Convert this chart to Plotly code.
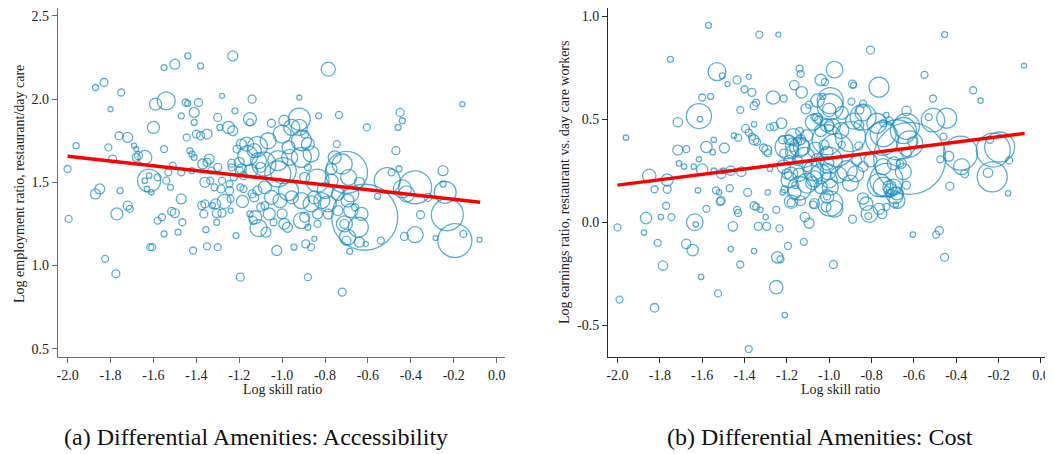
import plotly.graph_objects as go

# ---- data ----
# panel (a): log skill ratio vs log employment ratio, bubble radius ~ weight
skill_a = [
    -2.00, -1.96, -1.87, -1.83, -1.80, -1.75, -1.81, -1.76, -1.72, -1.69, -1.68, -1.79,
    -1.68, -1.64, -1.62, -1.60, -1.59, -1.54, -1.55, -1.50, -1.44, -1.38, -1.45, -1.44,
    -1.39, -1.41, -1.47, -1.41, -1.445, -1.40, -1.38, -1.35, -1.43, -1.42, -1.41, -1.55,
    -1.51, -1.53, -1.47, -1.42, -1.37, -1.34, -1.30, -1.28, -1.22, -1.23, -1.14, -1.30,
    -1.29, -1.25, -1.23, -1.15, -1.15, -0.92, -0.83, -0.735, -0.785, -0.92, -0.99, -0.605,
    -0.45, -0.44, -0.46, -0.16, -0.745, -0.47, -0.455, -0.49, -0.25, -0.25, -0.70, -0.72,
    -0.77, -0.51, -0.38, -0.44, -0.24,
    -1.995, -1.87, -1.85, -1.755, -1.825, -1.775, -1.77, -1.72, -1.71, -1.615, -1.605, -1.58,
    -1.56, -1.55, -1.515, -1.50, -1.47, -1.465, -1.485, -1.415, -1.375, -1.36, -1.365, -1.355,
    -1.35, -1.325, -1.305, -1.28, -1.305, -1.30, -1.27, -1.24, -1.215, -1.195, -1.185, -1.15,
    -1.135, -1.11, -1.075, -1.06, -1.04, -1.025, -0.99, -0.975, -0.945, -0.895, -0.89, -0.88,
    -0.865, -0.85, -0.72, -0.685, -0.70, -0.615, -0.64, -0.61, -0.54, -0.555, -0.71, -0.68,
    -0.43, -0.38, -0.355, -0.23, -0.285, -0.195, -0.155, -0.08, -0.42,
    -1.67, -1.54, -1.52, -1.64, -1.62, -1.58, -1.63, -1.61, -1.36, -1.315, -1.285, -1.245,
    -1.24, -1.195, -1.18, -1.235, -1.235, -1.14, -1.13, -1.10, -1.08, -1.115, -1.115, -1.13,
    -1.16, -1.085, -1.02, -1.10, -1.19, -1.20, -1.20, -1.18, -1.225,
    -1.05, -0.92, -1.00, -1.065, -1.165, -1.21, -0.895, -0.88, -0.865, -0.91, -0.965, -1.02,
    -0.995, -1.11, -1.145, -1.19, -0.755, -0.69, -1.35, -1.33, -1.28, -1.245, -1.335, -1.31,
    -1.08, -1.05, -1.01, -0.955, -0.91, -0.865, -0.815, -0.785, -0.74, -0.695, -1.125, -0.835,
    -0.785, -0.74, -0.71, -0.695,
    -0.64, -0.32, -0.645, -0.63, -0.955, -0.97, -0.91, -0.88, -0.895, -0.835, -0.77, -0.80,
    -0.85, -0.97, -0.91, -1.00, -0.835, -0.88, -0.66, -0.68,
]
emp_a = [
    1.58, 1.72, 2.07, 2.10, 1.94, 2.04, 1.71, 1.78, 1.77, 1.72, 1.70, 1.64,
    1.65, 1.65, 1.51, 1.83, 1.97, 1.99, 2.19, 2.21, 2.26, 2.20, 1.98, 1.975,
    1.98, 1.92, 1.90, 1.86, 1.77, 1.79, 1.78, 1.79, 1.69, 1.67, 1.65, 1.70,
    1.60, 1.56, 1.56, 1.57, 1.61, 1.64, 1.59, 2.02, 1.93, 2.26, 2.00, 1.89,
    1.83, 1.83, 1.81, 1.88, 1.86, 2.01, 1.90, 1.905, 2.18, 1.88, 1.87, 1.83,
    1.92, 1.87, 1.83, 1.97, 1.73, 1.69, 1.58, 1.56, 1.57, 1.49, 1.56, 1.61,
    1.58, 1.51, 1.47, 1.46, 1.44,
    1.28, 1.43, 1.46, 1.45, 1.04, 0.95, 1.31, 1.36, 1.34, 1.11, 1.11, 1.27,
    1.29, 1.19, 1.325, 1.315, 1.40, 1.26, 1.20, 1.09, 1.36, 1.37, 1.31, 1.215,
    1.115, 1.36, 1.315, 1.315, 1.26, 1.11, 1.385, 1.33, 1.18, 0.93, 1.385, 1.31,
    1.27, 1.225, 1.20, 1.31, 1.26, 1.09, 1.25, 1.23, 1.11, 1.29, 1.13, 0.93,
    1.11, 1.16, 0.84, 1.085, 1.15, 1.29, 1.14, 1.13, 1.15, 1.415, 1.25, 1.33,
    1.175, 1.185, 1.305, 1.305, 1.165, 1.15, 1.19, 1.155, 1.43,
    1.66, 1.51, 1.47, 1.51, 1.54, 1.53, 1.46, 1.44, 1.50, 1.47, 1.46, 1.45,
    1.40, 1.47, 1.46, 1.615, 1.59, 1.43, 1.41, 1.35, 1.36, 1.45, 1.715, 1.69,
    1.66, 1.61, 1.55, 1.59, 1.73, 1.62, 1.57, 1.54, 1.53,
    1.855, 1.83, 1.79, 1.75, 1.73, 1.70, 1.79, 1.73, 1.67, 1.65, 1.65, 1.63,
    1.57, 1.63, 1.57, 1.58, 1.65, 1.53, 1.62, 1.57, 1.51, 1.49, 1.51, 1.37,
    1.47, 1.41, 1.39, 1.41, 1.39, 1.37, 1.39, 1.37, 1.43, 1.39, 1.29, 1.31,
    1.31, 1.33, 1.25, 1.17,
    1.50, 1.41, 1.23, 1.31, 1.83, 1.71, 1.75, 1.59, 1.53, 1.51, 1.51, 1.45,
    1.41, 1.45, 1.27, 1.31, 1.25, 1.23, 1.35, 1.43,
]
weight_a = [
    3.5, 3, 3, 4, 2.5, 3.5, 3.5, 4, 5, 2.5, 2.5, 4,
    4, 7, 11.5, 6, 6, 9, 3, 5, 3, 3, 3.5, 3,
    4, 5, 3, 3, 3.5, 4, 4, 5, 3, 3, 3, 3.5,
    3.5, 3.5, 3.5, 3, 5, 5, 4, 2.5, 3, 5, 4, 4,
    3, 6, 5, 6.5, 3.5, 2.5, 3, 3.5, 7, 11, 5.5, 3.5,
    4, 3, 3, 2.5, 3.5, 4, 3, 3.5, 5, 3, 21, 10,
    5.5, 13, 16.5, 9, 11,
    3.5, 5, 5, 3, 3.5, 4, 6, 4.5, 3.5, 3.5, 3.5, 3.5,
    3.5, 3, 4, 4.5, 5, 3.5, 3, 3.5, 4, 4, 4, 3,
    3.5, 3, 4.5, 4, 3, 3.5, 7, 2.5, 3, 4, 6, 3,
    4, 8.5, 5, 6, 3.5, 5, 5.5, 5, 3, 5, 4, 3.5,
    3.5, 2.5, 4, 3, 4.5, 33, 5, 2.5, 3.5, 3, 4.5, 7,
    4, 8, 4, 16, 2.5, 17, 3.5, 2.5, 8,
    4, 3.5, 3, 2.7, 2.7, 3.5, 2.7, 2.7, 5, 3.5, 4, 4,
    3.5, 3.5, 3.5, 4, 3.5, 4, 4.5, 4, 4, 4.5, 10, 7,
    10, 12, 13, 5, 5, 5, 4, 4, 3.5,
    4, 8, 9, 8, 7, 4, 4, 6.5, 8, 10, 8, 10,
    13, 8, 6.5, 5, 6.5, 8, 4, 3.5, 3.5, 3.5, 3.5, 5,
    6.5, 7, 7, 6.5, 8, 8, 8, 8, 6.5, 6.5, 6.5, 5,
    5, 5, 8, 8,
    5, 4, 10, 6.5, 8, 6.5, 10, 3.5, 5, 11.5, 6.5, 8,
    6.5, 10, 8, 5, 3.5, 3, 3.5, 8,
]

# panel (b): log skill ratio vs log earnings ratio
skill_b = [
    -1.96, -1.75, -1.57, -1.33, -1.24, -0.805, -0.455, -0.08, -1.53, -1.505, -1.48, -1.435,
    -1.38, -1.40, -1.365, -1.60, -1.56, -1.615, -1.61, -1.715, -1.42, -1.355, -1.345, -1.355,
    -1.265, -1.215, -1.225, -1.26, -1.28, -1.165, -1.14, -1.135, -1.13, -1.04, -1.02, -0.975,
    -0.89, -0.885, -0.765, -0.55, -0.32, -0.285, -0.51, -0.995, -1.03, -0.895, -0.84, -0.885,
    -0.94, -0.855, -1.11, -1.095, -1.055, -1.07, -0.635, -0.53, -0.51, -0.445, -0.46,
    -0.68, -0.745, -0.65, -0.62,
    -0.38, -0.435, -0.475, -0.225, -0.195, -0.24, -0.23, -0.25, -0.15, -0.375, -0.36, -0.43,
    -0.155,
    -1.85, -1.765, -1.825, -1.765, -1.71, -1.685, -1.64, -1.715, -1.675, -1.62, -1.60, -1.545,
    -1.58, -1.55, -1.545, -1.495, -1.535, -1.52, -1.47, -1.465, -1.50, -1.45, -1.43, -1.415,
    -1.385, -1.395, -1.38, -1.365, -1.355, -1.34, -1.31, -1.295, -1.29, -1.28, -1.29, -1.22,
    -1.21, -1.16, -1.14, -1.20, -1.22, -1.215, -1.19, -1.15, -1.135, -1.115, -1.13, -1.175,
    -1.065, -1.025,
    -1.075, -1.04, -1.005, -0.955, -0.915, -0.875, -0.90, -0.995, -1.04, -1.08, -1.105,
    -0.94, -0.86, -0.87, -0.84, -0.805, -0.745, -0.695, -0.665, -0.635, -0.65, -0.695, -0.745,
    -0.68, -0.635,
    -2.00, -1.99, -1.865, -1.875, -1.81, -1.77, -1.795, -1.745, -1.785, -1.825, -1.675, -1.645,
    -1.63, -1.635, -1.605, -1.58, -1.515, -1.525, -1.455, -1.465, -1.42, -1.435, -1.43, -1.38,
    -1.355, -1.355, -1.345, -1.325, -1.30, -1.335, -1.295, -1.25, -1.245, -1.23, -1.235, -1.25,
    -1.21, -1.195, -1.18, -1.12, -1.115, -1.095, -1.075, -0.995, -0.975, -1.01, -0.98, -0.89,
    -0.84, -0.81, -0.815, -0.765, -0.75, -0.73, -0.69, -0.685, -0.605, -0.495, -0.48, -0.455,
    -1.615, -1.51, -1.51,
    -1.055, -1.00, -1.05, -1.00, -1.04, -1.105, -1.14, -1.175, -1.14, -1.01, -1.19, -1.215,
    -1.18, -1.19, -1.14, -1.07, -1.01, -1.055, -1.105, -1.15, -1.165, -1.135, -1.18, -1.07,
    -1.01, -1.015,
    -0.995, -1.075, -1.01, -0.84, -0.84, -0.775, -0.73, -0.745, -1.17, -1.20, -1.01, -0.90,
    -0.965, -0.73, -0.71, -0.68, -0.635, -0.62, -0.715, -0.86, -0.945, -0.985, -0.75, -0.605,
    -0.66, -0.715, -0.765, -0.715, -1.00, -1.00, -0.825,
]
earn_b = [
    0.41, 0.79, 0.955, 0.91, 0.91, 0.835, 0.91, 0.76, 0.73, 0.71, 0.67, 0.69,
    0.705, 0.645, 0.63, 0.605, 0.61, 0.515, 0.50, 0.485, 0.545, 0.565, 0.58, 0.475,
    0.605, 0.60, 0.48, 0.465, 0.46, 0.665, 0.745, 0.72, 0.63, 0.69, 0.68, 0.74,
    0.67, 0.665, 0.655, 0.715, 0.64, 0.59, 0.60, 0.59, 0.61, 0.585, 0.51, 0.49,
    0.53, 0.545, 0.55, 0.57, 0.505, 0.51, 0.54, 0.51, 0.495, 0.505, 0.415,
    0.40, 0.43, 0.445, 0.31,
    0.335, 0.32, 0.305, 0.35, 0.365, 0.40, 0.22, 0.24, 0.30, 0.27, 0.235, 0.175,
    0.14,
    0.225, 0.205, 0.16, 0.16, 0.285, 0.27, 0.27, 0.35, 0.355, 0.155, 0.255, 0.25,
    0.365, 0.34, 0.40, 0.36, 0.155, 0.145, 0.165, 0.25, 0.25, 0.42, 0.41, 0.245,
    0.145, 0.455, 0.435, 0.415, 0.40, 0.39, 0.36, 0.35, 0.335, 0.26, 0.145, 0.145,
    0.16, 0.18, 0.165, 0.235, 0.40, 0.335, 0.40, 0.39, 0.40, 0.315, 0.365, 0.34,
    0.35, 0.375,
    0.25, 0.235, 0.245, 0.23, 0.25, 0.235, 0.19, 0.17, 0.17, 0.19, 0.19,
    0.375, 0.37, 0.30, 0.27, 0.30, 0.27, 0.285, 0.285, 0.335, 0.245, 0.17, 0.17,
    0.14, 0.18,
    -0.025, -0.375, 0.02, -0.05, -0.10, 0.08, 0.025, 0.025, -0.21, -0.415, -0.105, -0.135,
    -0.01, 0.00, -0.265, 0.065, 0.10, -0.345, -0.02, -0.13, -0.205, 0.06, 0.045, -0.615,
    -0.14, 0.08, 0.075, 0.06, 0.025, -0.02, -0.02, 0.06, -0.17, -0.18, -0.03, -0.315,
    -0.45, -0.115, 0.095, -0.095, 0.025, -0.005, 0.085, 0.09, 0.065, 0.125, -0.205, 0.015,
    0.115, 0.04, 0.03, 0.065, 0.04, 0.075, 0.13, 0.085, -0.06, -0.06, -0.04, -0.17,
    0.305, 0.235, 0.105,
    0.59, 0.545, 0.495, 0.465, 0.445, 0.42, 0.44, 0.375, 0.365, 0.34, 0.30, 0.27,
    0.235, 0.205, 0.23, 0.21, 0.285, 0.30, 0.27, 0.30, 0.145, 0.105, 0.10, 0.09,
    0.125, 0.075,
    0.56, 0.485, 0.47, 0.575, 0.53, 0.48, 0.52, 0.48, 0.415, 0.365, 0.40, 0.415,
    0.35, 0.205, 0.155, 0.105, 0.465, 0.38, 0.49, 0.47, 0.445, 0.465, 0.405, 0.39,
    0.285, 0.17, 0.18, 0.14, 0.30, 0.205, 0.09,
]
weight_b = [
    2.7, 3, 3, 3.5, 2.5, 4, 3, 2.5, 9, 3, 2.5, 4,
    2.5, 3.5, 4, 3.5, 3, 12.5, 2.7, 4.7, 3.5, 4, 3.5, 2.7,
    6.7, 3.5, 5.3, 4, 3.5, 4.7, 3.5, 3.5, 5.7, 5.7, 3.5, 8.3,
    4, 3, 10, 3.5, 3.5, 2.7, 3.5, 13, 3, 3.5, 13, 8,
    6.5, 4, 5, 3.5, 5, 3.5, 4.7, 3.5, 11.7, 10, 3.5,
    20, 13, 13, 36,
    17, 5, 3.5, 17, 15, 3.5, 15, 4.7, 3.5, 8, 4, 4,
    2.7,
    6.7, 6, 3.5, 4, 2.7, 2.7, 2.7, 5, 3.5, 2.7, 5.7, 2.7,
    5.7, 2.7, 2.7, 5, 3.5, 2.7, 3.5, 4.7, 2.7, 2.7, 3.5, 4.7,
    4, 4, 3.5, 3.5, 5, 3.5, 4, 5, 3.5, 2.7, 2.7, 2.7,
    3.5, 3.5, 11.7, 5, 4, 4, 5, 4, 5, 10, 8.3, 6.7,
    8, 5,
    10, 10, 8, 8, 10, 8, 8, 8, 6.5, 6.5, 10,
    3.5, 4, 5, 5, 6.5, 8, 6.5, 3.5, 5, 8, 8, 10,
    6.5, 4,
    3.5, 3.5, 5.7, 2.7, 3.5, 3.5, 2.7, 3.5, 4.7, 4.3, 4.7, 5.7,
    2.7, 8.3, 2.7, 3.5, 4, 3.5, 4.7, 2.7, 3.5, 3.5, 3.5, 3.5,
    2.7, 4, 3.5, 2.7, 2.7, 4, 4, 3.5, 5.7, 3.5, 3.5, 6.7,
    2.7, 3.5, 4, 3.5, 4.7, 5, 3.5, 12.5, 8.3, 3.5, 4, 4,
    5.7, 8.3, 3.5, 5.7, 4.7, 3.5, 8.3, 2.7, 2.7, 3.5, 4, 4,
    2.7, 4.7, 4,
    6.7, 6.7, 4, 4.7, 6, 6, 4, 6.7, 10, 6, 5, 6.7,
    6.7, 8, 6.7, 8, 6.7, 6.7, 5, 5, 6.7, 5, 6.7, 5,
    6.7, 5,
    13, 8, 6.7, 3.5, 8, 10, 2.7, 3.5, 8, 11.7, 15, 15,
    16.5, 16.5, 6.7, 8, 13, 13, 4, 5, 8, 8, 16.5, 5,
    5, 6.7, 11.5, 4, 13, 8, 6.7,
]
assert len(skill_a) == len(emp_a) == len(weight_a)
assert len(skill_b) == len(earn_b) == len(weight_b)

# fitted lines (endpoints)
fit_x = [-2.0, -0.077]
fit_a = [1.657, 1.380]
fit_b = [0.180, 0.431]

x_ticks = [-2.0, -1.8, -1.6, -1.4, -1.2, -1.0, -0.8, -0.6, -0.4, -0.2, 0.0]
x_ticktext = ["-2.0", "-1.8", "-1.6", "-1.4", "-1.2", "-1.0", "-0.8", "-0.6", "-0.4", "-0.2", "0.0"]
ya_ticks = [0.5, 1.0, 1.5, 2.0, 2.5]
ya_ticktext = ["0.5", "1.0", "1.5", "2.0", "2.5"]
yb_ticks = [-0.5, 0.0, 0.5, 1.0]
yb_ticktext = ["-0.5", "0.0", "0.5", "1.0"]

BLUE = "#178dc2"
RED = "#ff0000"
SERIF = "Liberation Serif"

fig = go.Figure()

fig.add_trace(go.Scatter(
    x=skill_a, y=emp_a, mode="markers", xaxis="x", yaxis="y",
    marker=dict(symbol="circle-open", color=BLUE, size=[2 * w for w in weight_a],
                line=dict(width=1.3, color=BLUE)),
    showlegend=False, hoverinfo="skip"))
fig.add_trace(go.Scatter(
    x=fit_x, y=fit_a, mode="lines", xaxis="x", yaxis="y",
    line=dict(color=RED, width=3.5), showlegend=False))

fig.add_trace(go.Scatter(
    x=skill_b, y=earn_b, mode="markers", xaxis="x2", yaxis="y2",
    marker=dict(symbol="circle-open", color=BLUE, size=[2 * w for w in weight_b],
                line=dict(width=1.3, color=BLUE)),
    showlegend=False, hoverinfo="skip"))
fig.add_trace(go.Scatter(
    x=fit_x, y=fit_b, mode="lines", xaxis="x2", yaxis="y2",
    line=dict(color=RED, width=3.5), showlegend=False))

# the page puts the figure 8px in from the top-left corner
OFF = 8
W, H = 1053 - OFF, 454 - OFF

def fx(px):
    return (px - OFF) / W

def fy(py):
    return (H - (py - OFF)) / H

ydom = [fy(357.3), 1.0]

def ax_style(color):
    return dict(showline=True, linecolor=color, linewidth=1.3, ticks="outside",
                ticklen=5, tickwidth=1.2, tickcolor=color, showgrid=False,
                zeroline=False, tickfont=dict(family=SERIF, size=14, color="#222"),
                fixedrange=True)

fig.update_layout(
    width=W, height=H, autosize=False,
    margin=dict(l=0, r=0, t=0, b=0),
    paper_bgcolor="white", plot_bgcolor="white",
    xaxis=dict(domain=[fx(56), fx(504)], range=[-2.045, 0.039], anchor="y",
               tickvals=x_ticks, ticktext=x_ticktext, **ax_style("#6e6e6e")),
    yaxis=dict(domain=ydom, range=[0.448, 2.548], anchor="x",
               tickvals=ya_ticks, ticktext=ya_ticktext, **ax_style("#6e6e6e")),
    xaxis2=dict(domain=[fx(607.3), 1.0], range=[-2.044, 0.057], anchor="y2",
                tickvals=x_ticks, ticktext=x_ticktext, **ax_style("#2a2a2a")),
    yaxis2=dict(domain=ydom, range=[-0.655, 1.039], anchor="x2",
                tickvals=yb_ticks, ticktext=yb_ticktext, **ax_style("#2a2a2a")),
)

def label(text, x_px, y_px, size=14, angle=0, family=SERIF, color="#222"):
    fig.add_annotation(text=text, x=fx(x_px), y=fy(y_px), xref="paper",
                       yref="paper", showarrow=False, textangle=angle,
                       font=dict(family=family, size=size, color=color),
                       xanchor="center", yanchor="middle")

label("Log skill ratio", 281, 389)
label("Log skill ratio", 840, 389)
label("Log employment ratio, restaurant/day care", 17, 184, angle=-90)
label("Log earnings ratio, restaurant vs. day care workers", 563, 182, angle=-90)
label("(a) Differential Amenities: Accessibility", 254, 437, size=24, color="#111")
label("(b) Differential Amenities: Cost", 820, 437, size=24, color="#111")

fig.write_html("out.html")
